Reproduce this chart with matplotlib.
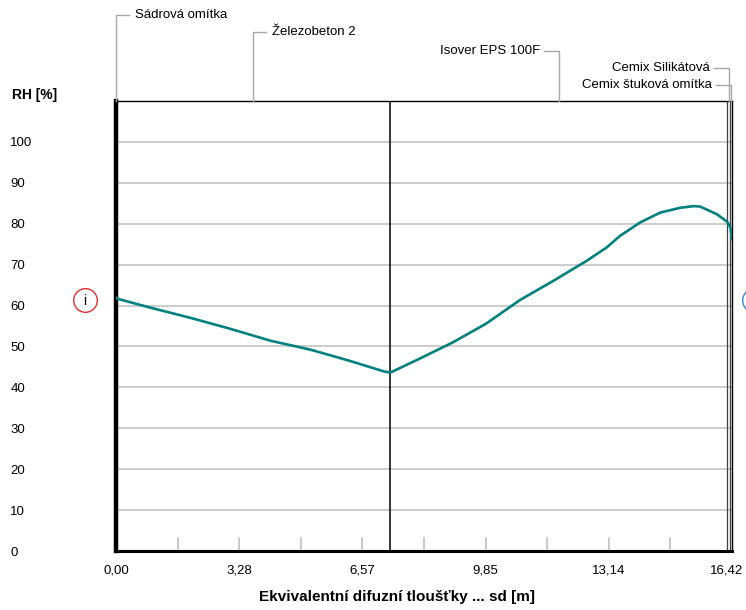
import numpy as np
import matplotlib
matplotlib.use("Agg")
import matplotlib.pyplot as plt
import matplotlib.transforms as mtransforms

plt.rcParams["font.family"] = ["Liberation Sans", "DejaVu Sans"]

# RH profile (sd in m, RH in %)
sd = [0.00, 0.02, 0.91, 1.98, 3.05, 4.12, 5.19, 6.26, 7.14, 7.31,
      8.09, 8.98, 9.87, 10.76, 11.65, 12.54, 13.08, 13.43, 13.97,
      14.50, 15.04, 15.40, 15.57, 16.02, 16.29, 16.38, 16.42]
rh = [62.0, 61.7, 59.5, 57.0, 54.3, 51.4, 49.2, 46.4, 43.9, 43.6,
      47.0, 51.0, 55.6, 61.3, 66.0, 70.9, 74.2, 77.0, 80.3,
      82.7, 83.9, 84.3, 84.2, 82.3, 80.5, 79.0, 76.2]

# layers: names and boundaries along sd
layer_names = ["Sádrová omítka", "Železobeton 2", "Isover EPS 100F",
               "Cemix Silikátová", "Cemix štuková omítka"]
layer_edges = [0.0, 0.02, 7.31, 16.30, 16.37, 16.42]

sd_max = 16.42
x_ticks = [i * sd_max / 10 for i in range(11)]
x_labels = ["0,00", "3,28", "6,57", "9,85", "13,14", "16,42"]
y_ticks = list(range(0, 101, 10))

W, H = 746, 610
fig = plt.figure(figsize=(W / 100, H / 100), dpi=100)
ax = fig.add_axes([116 / W, 1 - 551 / H, (732 - 116) / W, (551 - 101) / H])
ax.set_xlim(0, sd_max)
ax.set_ylim(0, 110)

# gridlines
for y in y_ticks[1:]:
    ax.axhline(y, color="#c8c8c8", lw=1.3, zorder=1)

# inner gray ticks on the bottom axis
for x in x_ticks[1:-1]:
    ax.plot([x, x], [0, 3.3], color="#c0c0c0", lw=1.2, zorder=1)

# layer boundaries
ax.axvline(layer_edges[2], color="black", lw=1.1, zorder=2)
for x in layer_edges[3:5]:
    ax.axvline(x, color="#404040", lw=0.9, zorder=2)

# curve
ax.plot(sd, rh, color="#008080", lw=1.9, zorder=3, solid_joinstyle="round")

# spines
for s in ax.spines.values():
    s.set_color("black")
ax.spines["left"].set_linewidth(3.2)
ax.spines["bottom"].set_linewidth(2.2)
ax.spines["top"].set_linewidth(1.0)
ax.spines["right"].set_linewidth(1.0)

ax.set_xticks(x_ticks[::2])
ax.set_xticklabels(x_labels)
ax.set_yticks(y_ticks)
ax.set_yticklabels([str(v) for v in y_ticks], ha="left")
ax.tick_params(axis="x", length=0, pad=10, labelsize=9.5)
ax.tick_params(axis="y", length=0, pad=76, labelsize=9.5)
# keep the last x label inside the figure
last = ax.get_xticklabels()[-1]
last.set_transform(last.get_transform() +
                   mtransforms.ScaledTranslation(-5 / 100, 0, fig.dpi_scale_trans))

# leader lines and layer names above the plot (figure pixel coords)
pix = mtransforms.Affine2D().scale(1, -1).translate(0, H)
to_px = lambda x: 116 + x / sd_max * (732 - 116)
label_y = [15, 32, 51, 68, 85]
sides = ["right", "right", "left", "left", "left"]
for i, name in enumerate(layer_names):
    xc = to_px((layer_edges[i] + layer_edges[i + 1]) / 2)
    if i == 0:
        xc = 116
    ly = label_y[i]
    if sides[i] == "right":
        xs = [xc, xc, xc + 13]
        tx, ha = xc + 19, "left"
    else:
        xs = [xc, xc, xc - 15]
        tx, ha = xc - 19, "right"
    fig.add_artist(plt.Line2D(xs, [101, ly, ly], color="#a8a8a8", lw=1,
                              transform=pix))
    fig.text(tx / W, 1 - ly / H, name, ha=ha, va="center", fontsize=9.5)

fig.text(12 / W, 1 - 95 / H, "RH [%]", ha="left", va="center",
         fontsize=10, fontweight="bold")
fig.text(397 / W, 1 - 597 / H, "Ekvivalentní difuzní tloušťky ... sd [m]",
         ha="center", va="center", fontsize=11, fontweight="bold")

# interior / exterior markers
fig.add_artist(plt.Line2D([85], [300], marker="o", ms=17, mfc="none",
                          mec="#e03030", mew=1, transform=pix))
fig.text(85 / W, 1 - 301 / H, "i", ha="center", va="center", fontsize=10)
fig.add_artist(plt.Line2D([754], [300], marker="o", ms=17, mfc="none",
                          mec="#4080d0", mew=1, transform=pix))

fig.savefig("out.png", dpi=100)
